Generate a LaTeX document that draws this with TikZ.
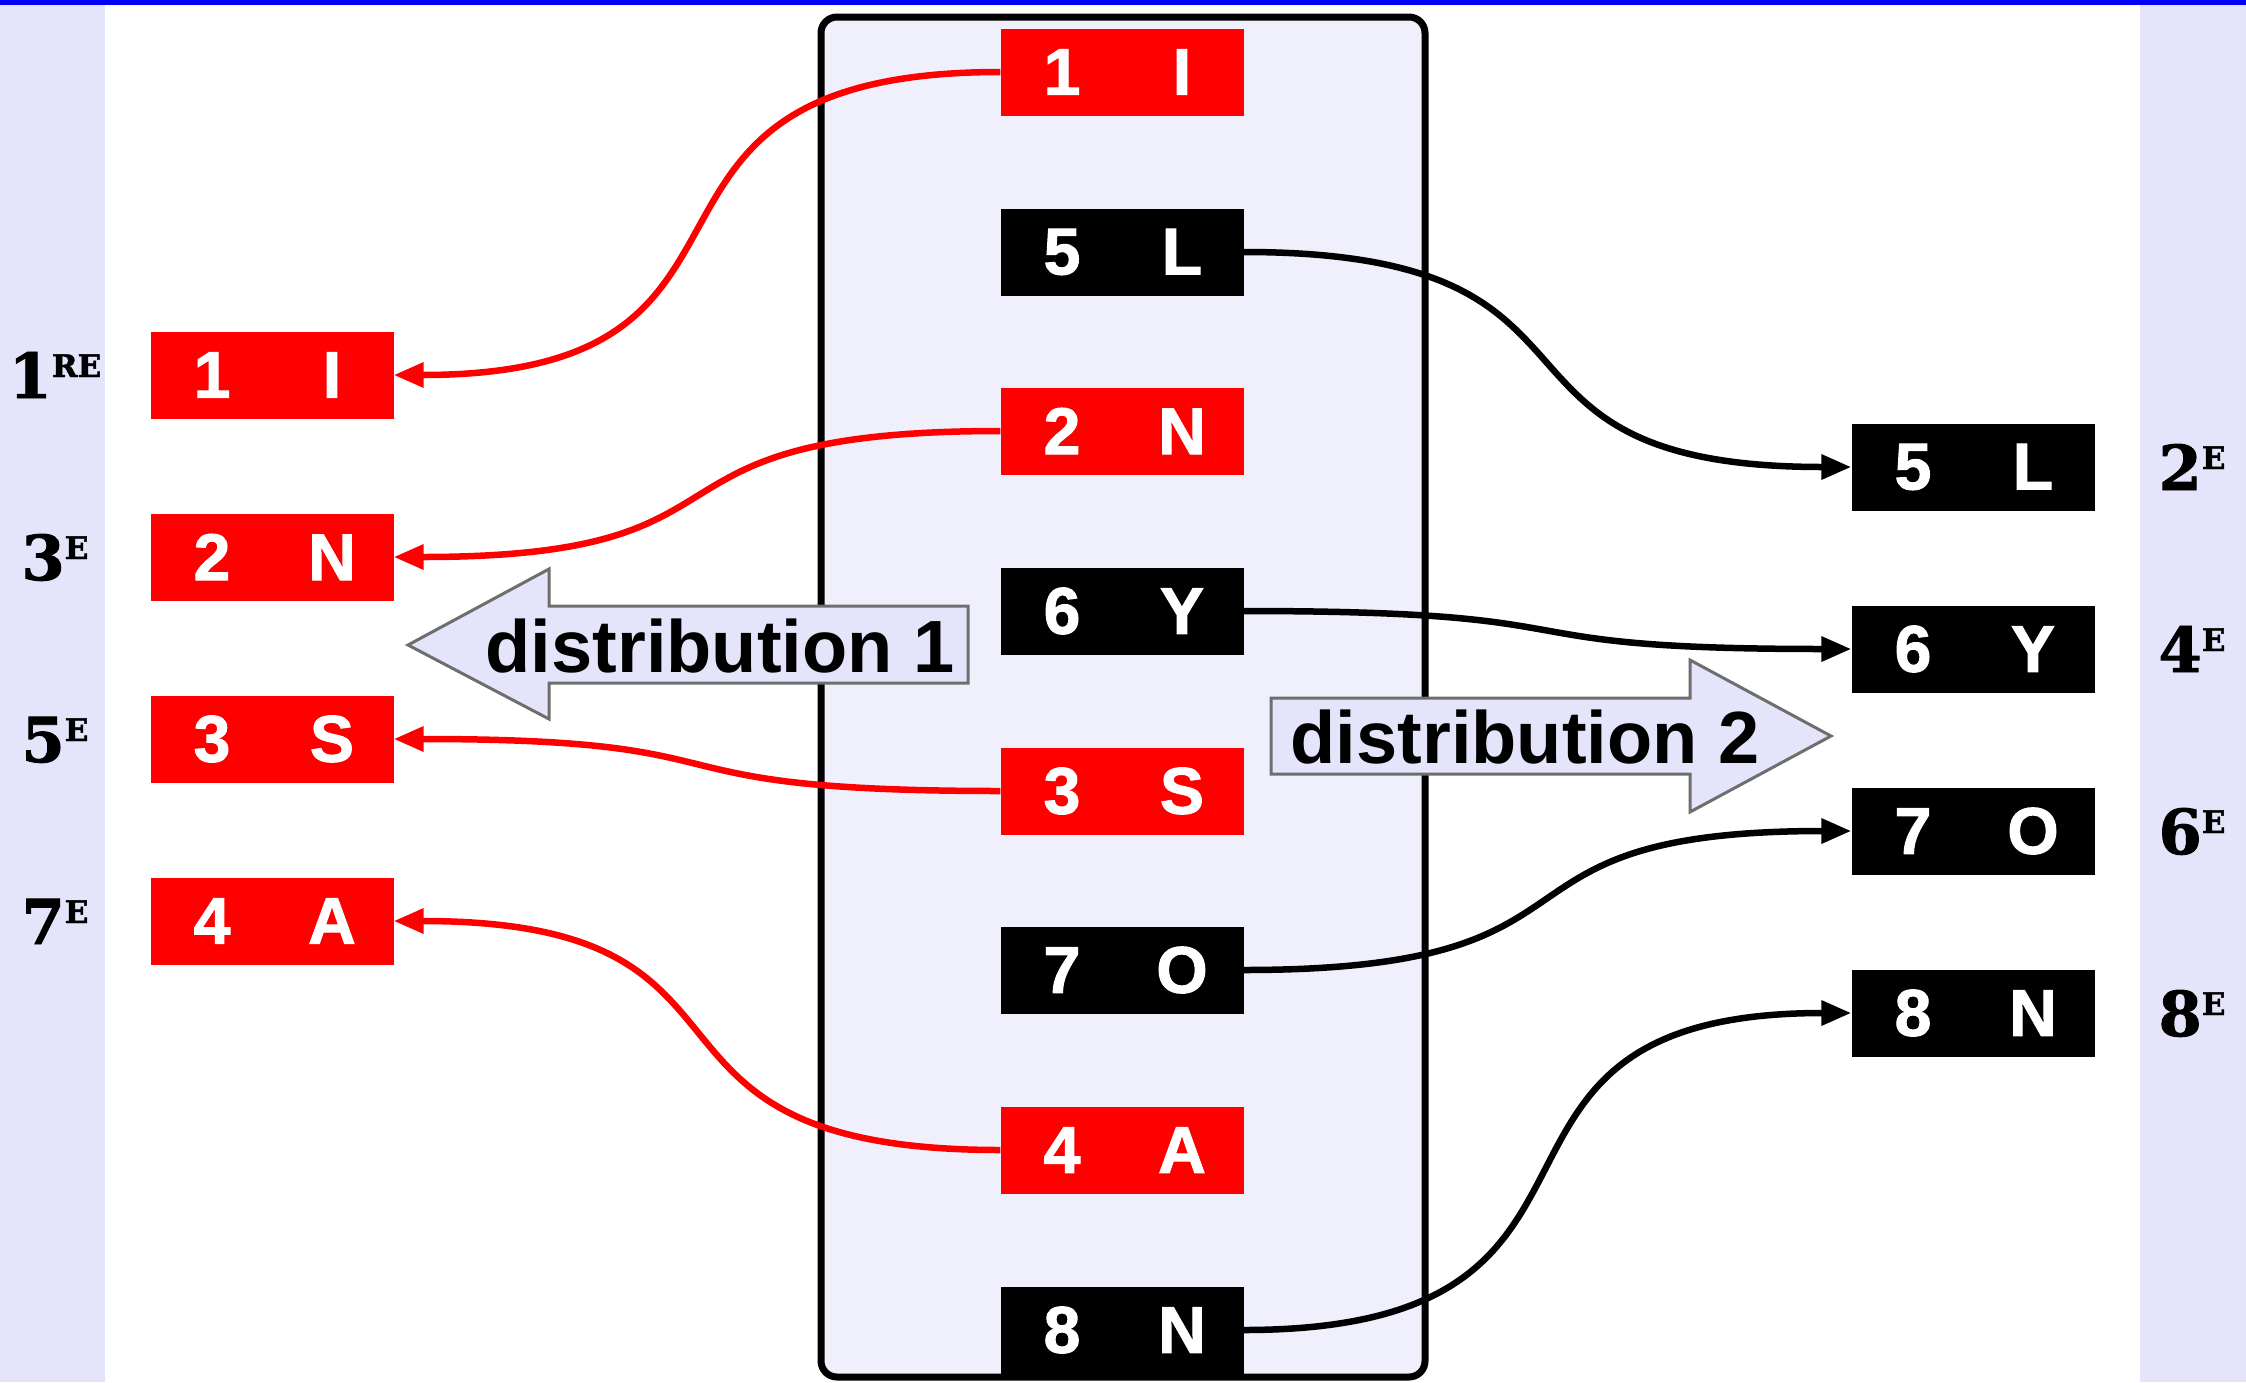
\documentclass[tikz,border=0pt]{standalone}
\usepackage{fontspec}
\setmainfont{Liberation Sans}
\newfontfamily\cellfont[FakeBold=1.6]{Liberation Sans Bold}
\newfontfamily\ordfont[FakeBold=1.5]{DejaVu Serif Bold}
\usetikzlibrary{arrows.meta}

\definecolor{bandlav}{RGB}{228,228,250}
\definecolor{panel}{RGB}{240,240,252}
\definecolor{arrowgray}{RGB}{110,110,110}

% digit and letter of a cell, each centred 60pt off the cell centre
\newcommand{\cellpair}[2]{\makebox[60pt]{#1}\hspace{60pt}\makebox[60pt]{#2}}
% ordinal with raised suffix
\newcommand{\ordlabel}[2]{{\fontsize{62}{62}\selectfont #1}\raisebox{21pt}{\fontsize{31}{31}\selectfont #2}}

\begin{document}
\begin{tikzpicture}[x=1pt,y=-1pt,
  cell/.style={rectangle, minimum width=243pt, minimum height=87pt, inner sep=0pt,
    text=white, font=\cellfont\fontsize{66}{66}\selectfont},
  redcell/.style={cell, fill=red},
  blackcell/.style={cell, fill=black},
  ord/.style={font=\ordfont, inner sep=0pt, anchor=base},
  link/.style={line width=6.5pt, looseness=1.6, -{Triangle[length=30pt,width=24pt]}},
  blockarrow/.style={draw=arrowgray, line width=3pt, fill=bandlav, line join=miter},
  blocklabel/.style={font=\bfseries\fontsize{74}{74}\selectfont, inner sep=0pt}
]
\useasboundingbox (0,0) rectangle (2246,1382);

% background, side bands and top rule
\fill[white] (0,0) rectangle (2246,1382);
\fill[bandlav] (0,0) rectangle (105,1382);
\fill[bandlav] (2140,0) rectangle (2246,1382);
\fill[blue] (0,0) rectangle (2246,5);

% central panel
\draw[line width=7pt, rounded corners=16pt, fill=panel] (821,17) rectangle (1425,1377);

% block arrows
\draw[blockarrow] (408,645) -- (549,569) -- (549,606) -- (968,606) -- (968,683)
  -- (549,683) -- (549,719) -- cycle;
\node[blocklabel] (dist1) at (720,646) {distribution 1};
\draw[blockarrow] (1271,698) -- (1690,698) -- (1690,660) -- (1831,736) -- (1690,812)
  -- (1690,774) -- (1271,774) -- cycle;
\node[blocklabel] (dist2) at (1525,737) {distribution 2};

% central column
\node[redcell]   (c1) at (1122,72)   {\cellpair{1}{I}};
\node[blackcell] (c5) at (1122,252)  {\cellpair{5}{L}};
\node[redcell]   (c2) at (1122,431)  {\cellpair{2}{N}};
\node[blackcell] (c6) at (1122,611)  {\cellpair{6}{Y}};
\node[redcell]   (c3) at (1122,791)  {\cellpair{3}{S}};
\node[blackcell] (c7) at (1122,970)  {\cellpair{7}{O}};
\node[redcell]   (c4) at (1122,1150) {\cellpair{4}{A}};
\node[blackcell] (c8) at (1122,1330) {\cellpair{8}{N}};

% left column
\node[redcell] (l1) at (272,375) {\cellpair{1}{I}};
\node[redcell] (l2) at (272,557) {\cellpair{2}{N}};
\node[redcell] (l3) at (272,739) {\cellpair{3}{S}};
\node[redcell] (l4) at (272,921) {\cellpair{4}{A}};

% right column
\node[blackcell] (r5) at (1973,467)  {\cellpair{5}{L}};
\node[blackcell] (r6) at (1973,649)  {\cellpair{6}{Y}};
\node[blackcell] (r7) at (1973,831)  {\cellpair{7}{O}};
\node[blackcell] (r8) at (1973,1013) {\cellpair{8}{N}};

% ordinals
\node[ord] (o1) at (55,398)    {\ordlabel{1}{RE}};
\node[ord] (o3) at (55,580)    {\ordlabel{3}{E}};
\node[ord] (o5) at (55,762)    {\ordlabel{5}{E}};
\node[ord] (o7) at (55,944)    {\ordlabel{7}{E}};
\node[ord] (o2) at (2192,490)  {\ordlabel{2}{E}};
\node[ord] (o4) at (2192,672)  {\ordlabel{4}{E}};
\node[ord] (o6) at (2192,854)  {\ordlabel{6}{E}};
\node[ord] (o8) at (2192,1036) {\ordlabel{8}{E}};

% links
\draw[link, red] (c1.west) to[out=180,in=0] (l1.east);
\draw[link, red] (c2.west) to[out=180,in=0] (l2.east);
\draw[link, red] (c3.west) to[out=180,in=0] (l3.east);
\draw[link, red] (c4.west) to[out=180,in=0] (l4.east);
\draw[link, black] (c5.east) to[out=0,in=180] (r5.west);
\draw[link, black] (c6.east) to[out=0,in=180] (r6.west);
\draw[link, black] (c7.east) to[out=0,in=180] (r7.west);
\draw[link, black] (c8.east) to[out=0,in=180] (r8.west);
\end{tikzpicture}
\end{document}
